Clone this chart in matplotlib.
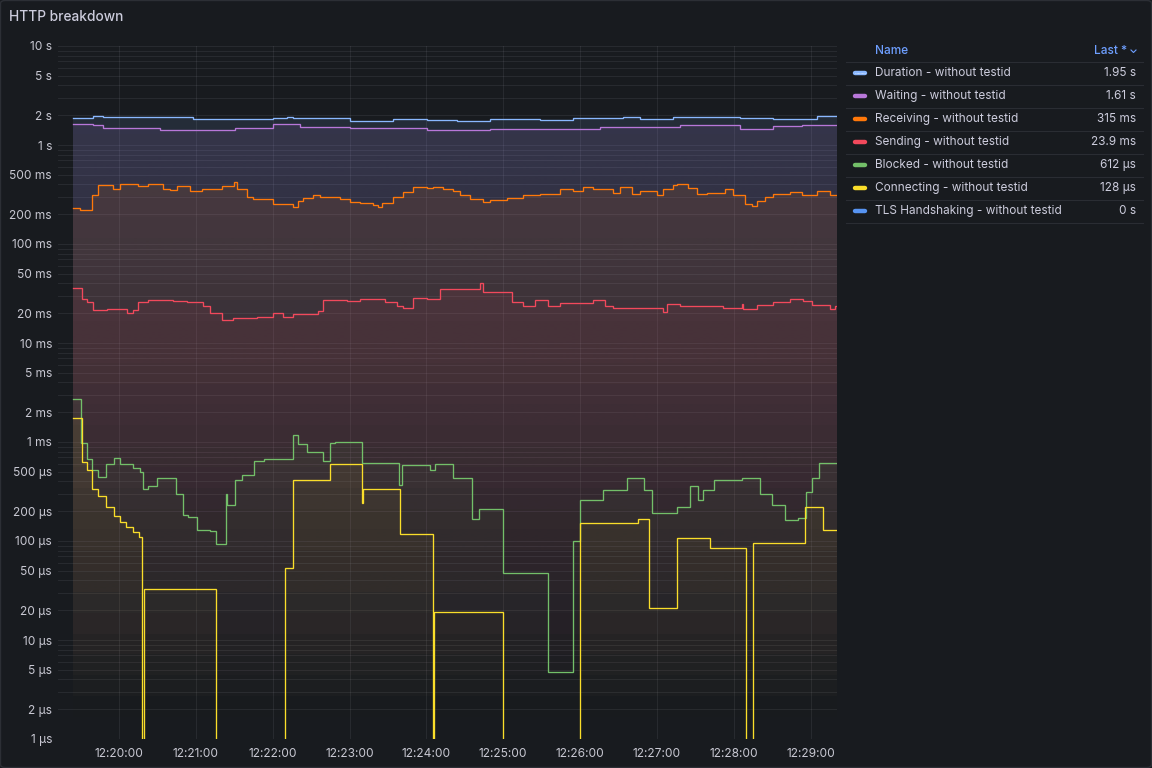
import numpy as np
import matplotlib
matplotlib.use("Agg")
import matplotlib.pyplot as plt
import matplotlib.dates as mdates
import matplotlib.colors as mcolors
from matplotlib.ticker import FixedLocator, FuncFormatter, NullFormatter
from matplotlib.patches import Polygon, FancyBboxPatch
from matplotlib.lines import Line2D
from datetime import datetime, timedelta

plt.rcParams['font.family'] = ['Inter', 'DejaVu Sans']

# ---------------- data (seconds after 12:19:00, values in ms) ----------------
BASE = datetime(2024, 1, 1, 12, 19, 0)
END_S = 620.6
VIEW_S = (12.4, 620.6)

names = ["Duration - without testid", "Waiting - without testid",
         "Receiving - without testid", "Sending - without testid",
         "Blocked - without testid", "Connecting - without testid",
         "TLS Handshaking - without testid"]
colors = ["#8AB8FF", "#B877D9", "#FF780A", "#F2495C", "#73BF69", "#FADE2A", "#5794F2"]
last_labels = ["1.95 s", "1.61 s", "315 ms", "23.9 ms", "612 µs", "128 µs", "0 s"]

duration_t = [24.4, 40.0, 47.8, 118.0, 180.5, 190.9, 196.1, 240.3, 274.1, 300.2,
              323.6, 349.6, 388.7, 414.7, 453.7, 466.7, 492.7, 544.8, 570.8, 604.6]
duration_ms = [1890, 1960, 1920, 1850, 1870, 1920, 1870, 1760, 1830, 1800,
               1760, 1820, 1790, 1860, 1920, 1830, 1920, 1860, 1820, 1950]

waiting_t = [24.4, 40.0, 47.8, 92.0, 150.7, 180.5, 201.3, 240.3, 300.2, 349.6,
             435.5, 498.0, 544.8, 570.8, 592.9]
waiting_ms = [1620, 1580, 1500, 1430, 1490, 1620, 1530, 1470, 1420, 1450,
              1520, 1600, 1450, 1570, 1610]

receiving_t = [24.4, 29.6, 39.2, 43.9, 55.6, 60.8, 75.1, 82.9, 94.6, 99.8,
               105.0, 115.4, 124.5, 140.1, 149.8, 151.8, 159.7, 164.9, 180.5, 196.1,
               200.0, 203.9, 211.7, 217.0, 232.5, 240.3, 248.1, 258.5, 262.4, 265.0,
               274.1, 282.0, 289.8, 300.2, 305.4, 313.2, 321.0, 326.2, 334.0, 344.4,
               349.6, 362.6, 375.7, 388.7, 404.3, 414.7, 422.5, 430.3, 445.9, 451.1,
               460.2, 466.7, 477.1, 479.7, 484.9, 492.7, 495.3, 504.5, 511.0, 518.8,
               533.1, 539.6, 548.7, 553.9, 557.8, 564.3, 570.8, 583.8, 592.9, 604.6,
               615.0]
receiving_ms = [231, 220, 313, 390, 356, 404, 385, 400, 360, 351,
                385, 345, 360, 385, 420, 360, 300, 285, 255, 237,
                270, 290, 310, 300, 285, 265, 260, 245, 237, 260,
                300, 337, 375, 370, 380, 360, 340, 310, 285, 267,
                280, 290, 313, 320, 357, 345, 376, 357, 330, 380,
                320, 340, 345, 310, 357, 390, 404, 370, 320, 330,
                357, 310, 255, 240, 270, 300, 320, 335, 310, 345,
                315]

sending_t = [24.4, 30.9, 34.8, 40.0, 50.4, 66.0, 71.2, 75.1, 82.9, 102.4,
             112.8, 125.8, 131.0, 140.1, 149.2, 167.5, 180.5, 188.3, 196.1, 215.6,
             219.5, 237.7, 248.1, 267.6, 276.7, 282.0, 289.8, 300.2, 310.6, 323.6,
             341.8, 344.4, 366.5, 375.7, 384.8, 395.2, 404.3, 430.3, 439.4, 445.9,
             485.0, 487.5, 498.0, 531.8, 546.1, 547.4, 557.8, 570.8, 583.8, 594.2,
             600.7, 615.0, 619.0]
sending_ms = [35.7, 27.6, 26.0, 21.5, 21.8, 20.1, 21.5, 26.2, 27.5, 26.5,
              26.0, 23.8, 20.0, 17.1, 18.0, 18.5, 20.0, 18.5, 19.8, 21.0,
              27.2, 26.5, 27.8, 26.0, 23.8, 22.5, 28.5, 28.0, 35.0, 35.5,
              40.0, 33.0, 26.2, 23.8, 27.0, 23.8, 25.5, 27.5, 23.8, 22.5,
              20.5, 24.5, 23.5, 22.5, 24.5, 22.0, 24.0, 26.0, 27.8, 26.5,
              24.0, 22.0, 23.9]

blocked_t = [24.4, 30.1, 34.8, 39.2, 43.9, 49.9, 56.4, 60.8, 71.2, 76.4,
             79.0, 82.9, 89.9, 104.5, 109.7, 114.1, 120.6, 131.0, 135.5, 143.5,
             144.6, 150.5, 155.7, 165.4, 173.2, 196.1, 200.0, 206.5, 219.5, 224.7,
             228.6, 249.4, 278.8, 280.6, 302.8, 306.7, 321.0, 335.3, 341.3, 360.0,
             395.2, 414.2, 419.9, 438.1, 456.3, 469.9, 475.8, 495.9, 505.7, 512.3,
             516.2, 524.5, 546.1, 560.4, 569.5, 579.9, 590.3, 596.3, 600.7, 606.7]
blocked_ms = [2.7, 0.97, 0.673, 0.52, 0.44, 0.60, 0.695, 0.60, 0.55, 0.50,
              0.333, 0.36, 0.43, 0.30, 0.183, 0.175, 0.13, 0.125, 0.093, 0.30,
              0.23, 0.41, 0.46, 0.65, 0.68, 1.18, 0.95, 0.80, 0.64, 0.97,
              1.0, 0.62, 0.37, 0.58, 0.52, 0.60, 0.43, 0.166, 0.209, 0.047,
              0.0047, 0.10, 0.26, 0.33, 0.43, 0.33, 0.19, 0.22, 0.36, 0.26,
              0.33, 0.41, 0.43, 0.30, 0.23, 0.163, 0.17, 0.31, 0.43, 0.612]

connecting_t = [24.4, 30.9, 35.3, 39.2, 43.9, 49.9, 56.4, 60.8, 65.5, 70.7,
                75.9, 78.2, 79.5, 135.5, 189.6, 195.6, 224.7, 249.4, 250.7, 279.3,
                304.8, 305.9, 359.5, 419.9, 465.4, 474.0, 495.9, 521.4, 549.5, 555.1,
                595.5, 609.8]
connecting_ms = [1.73, 0.63, 0.52, 0.333, 0.285, 0.22, 0.179, 0.155, 0.137, 0.122,
                 0.11, 0, 0.033, 0, 0.053, 0.413, 0.60, 0.24, 0.333, 0.118,
                 0, 0.019, 0, 0.151, 0.165, 0.0209, 0.106, 0.084, 0, 0.095,
                 0.22, 0.128]

tls_t = [24.4]
tls_ms = [0]

series_t = [duration_t, waiting_t, receiving_t, sending_t, blocked_t, connecting_t, tls_t]
series_ms = [duration_ms, waiting_ms, receiving_ms, sending_ms, blocked_ms, connecting_ms, tls_ms]

# ---------------- figure ----------------
W, H = 1152, 768
BG = "#181b1f"
TXT = "#ccccdc"
fig = plt.figure(figsize=(W / 100, H / 100), dpi=100, facecolor=BG)

def fx(px):
    return px / W

def fy(py):
    return 1 - py / H

AX_L, AX_R, AX_T, AX_B = 58, 837, 46, 739
ax = fig.add_axes([fx(AX_L), fy(AX_B), fx(AX_R - AX_L), (AX_B - AX_T) / H])
ax.set_facecolor(BG)
for s in ax.spines.values():
    s.set_visible(False)
ax.set_yscale('log')
ax.set_autoscale_on(False)

FLOOR = 1e-9
YMIN, YMAX = 1e-6, 10.0

def to_num(secs):
    return mdates.date2num([BASE + timedelta(seconds=float(s)) for s in secs])

x0 = to_num([VIEW_S[0]])[0]
x1 = to_num([VIEW_S[1]])[0]
ax.set_xlim(x0, x1)
ax.set_ylim(YMIN, YMAX)

FILL_ALPHA = 0.13

for t, v, c in zip(series_t, series_ms, colors):
    n = min(len(t), len(v))
    ts = list(t[:n]) + [END_S]
    vs = np.array(list(v[:n]) + [v[n - 1]], dtype=float) / 1000.0
    vs = np.where(vs > 0, vs, FLOOR)
    xs = to_num(ts)
    poly = ax.fill_between(xs, vs, FLOOR, step='post', facecolor='none', edgecolor='none')
    paths = poly.get_paths()
    poly.remove()
    if np.any(vs > YMIN):
        rgb = mcolors.to_rgb(c)
        grad = np.zeros((256, 1, 4))
        grad[:, 0, :3] = rgb
        grad[:, 0, 3] = np.linspace(FILL_ALPHA, 0.0, 256)
        for p in paths:
            patch = Polygon(p.vertices, closed=True, transform=ax.transData,
                            facecolor='none', edgecolor='none')
            ax.add_patch(patch)
            im = ax.imshow(grad, extent=(0, 1, 0, 1), transform=ax.transAxes,
                           aspect='auto', origin='upper', interpolation='bilinear',
                           zorder=1)
            im.set_clip_path(patch)
    ax.plot(xs, vs, drawstyle='steps-post', color=c, lw=0.95, zorder=3,
            solid_joinstyle='miter')

ax.set_xlim(x0, x1)
ax.set_ylim(YMIN, YMAX)

# y ticks
major = [k * 10.0 ** e for e in range(-6, 2) for k in (1, 2, 5) if k * 10.0 ** e <= 10.0 + 1e-9]
minor = [k * 10.0 ** e for e in range(-6, 1) for k in (3, 4, 6, 7, 8, 9)]
ax.yaxis.set_major_locator(FixedLocator(major))
ax.yaxis.set_minor_locator(FixedLocator(minor))
ax.yaxis.set_minor_formatter(NullFormatter())

def yfmt(v, pos):
    if v >= 1 - 1e-12:
        return f"{round(v, 6):g} s"
    if v >= 1e-3 - 1e-15:
        return f"{round(v * 1e3, 6):g} ms"
    return f"{round(v * 1e6, 6):g} µs"

ax.yaxis.set_major_formatter(FuncFormatter(yfmt))

ax.xaxis.set_major_locator(mdates.MinuteLocator())
ax.xaxis.set_major_formatter(mdates.DateFormatter('%H:%M:%S'))

ax.tick_params(axis='both', which='both', length=0, labelcolor="#c8c8d2", labelsize=8.6)
ax.tick_params(axis='y', pad=4.3)
ax.tick_params(axis='x', pad=6.5)

GRID_RGB = (204 / 255, 204 / 255, 220 / 255)
ax.grid(True, which='both', axis='y', color=GRID_RGB, alpha=0.085, lw=0.75, zorder=0.5)
ax.grid(True, which='major', axis='x', color=GRID_RGB, alpha=0.085, lw=0.75, zorder=0.5)
ax.set_axisbelow(True)

# ---------------- title ----------------
fig.text(fx(9), fy(17), "HTTP breakdown", color=TXT, fontsize=9.9,
         fontweight='medium', va='center', ha='left')

# ---------------- legend table ----------------
HDR = "#6e9fff"
SEP = "#2a2d33"
fig.text(fx(875), fy(50.5), "Name", color=HDR, fontsize=8.5, fontweight='medium',
         va='center', ha='left')
fig.text(fx(1127), fy(50.5), "Last *", color=HDR, fontsize=8.5, fontweight='medium',
         va='center', ha='right')
fig.add_artist(Line2D([fx(1131), fx(1133.5), fx(1136)], [fy(50), fy(52.5), fy(50)],
                      color=HDR, lw=0.8, transform=fig.transFigure))

for i in range(8):
    yy = 61.5 + 23 * i
    fig.add_artist(Line2D([fx(846), fx(1143)], [fy(yy), fy(yy)], color=SEP, lw=0.8,
                          transform=fig.transFigure))

for i, (nm, c, lv) in enumerate(zip(names, colors, last_labels)):
    yy = 73.3 + 23 * i
    fig.add_artist(Line2D([fx(855), fx(865)], [fy(yy - 0.5), fy(yy - 0.5)], color=c, lw=3.2,
                          solid_capstyle='round', transform=fig.transFigure))
    if i == 0:
        fig.add_artist(Line2D([fx(855), fx(865)], [fy(yy - 0.5), fy(yy - 0.5)], color="#e6efff",
                              lw=0.6, linestyle=(0, (0.8, 0.8)),
                              transform=fig.transFigure))
    fig.text(fx(875), fy(yy), nm, color=TXT, fontsize=8.5, va='center', ha='left')
    fig.text(fx(1136), fy(yy), lv, color=TXT, fontsize=8.5, va='center', ha='right')

# panel border
fig.add_artist(FancyBboxPatch((fx(0.5), fy(767.5)), fx(1151), (767) / H,
                              boxstyle="round,pad=0,rounding_size=0.004",
                              transform=fig.transFigure, facecolor='none',
                              edgecolor="#2c2f35", lw=1.0))

fig.savefig("out.png", dpi=100, facecolor=BG)
